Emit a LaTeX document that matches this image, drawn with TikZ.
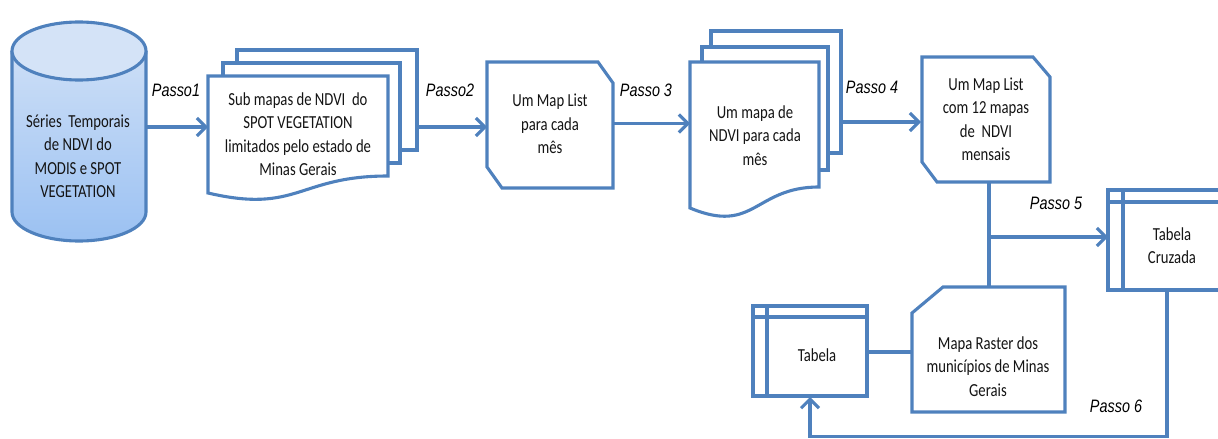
\documentclass[tikz,border=0pt]{standalone}
\usepackage{fontspec}
\usepackage{graphicx}
\usetikzlibrary{arrows.meta}
\newfontfamily\calfont{Carlito}
\newfontfamily\arifont{Liberation Sans}
\definecolor{ob}{RGB}{79,129,189}
\definecolor{tc}{RGB}{20,20,20}
\definecolor{cylT}{RGB}{212,227,247}
\definecolor{cylB}{RGB}{155,193,242}
\newcommand{\tx}[1]{\scalebox{1}[1.25]{\begin{tabular}{@{}c@{}}#1\end{tabular}}}
\newcommand{\ps}[1]{\scalebox{1}[1.25]{#1}}
\tikzset{
  ln/.style={draw=ob, line width=3.1pt},
  arr/.style={ln, -{Straight Barb[length=9pt,width=18pt]}},
  shapebox/.style={ln, fill=white, line join=miter},
  txt/.style={inner sep=0pt, text=tc, font=\calfont\fontsize{14.7}{18.8}\selectfont},
  passo/.style={inner sep=0pt, text=black, font=\arifont\itshape\fontsize{14.4}{17}\selectfont}
}
\begin{document}
\begin{tikzpicture}[x=1pt,y=-1pt]
\useasboundingbox (0,0) rectangle (1218,439);
% cylinder
\path[top color=cylT, bottom color=cylB] (12,51) -- (12,212) arc[start angle=180,end angle=360,x radius=67pt,y radius=29pt] -- (146,51) arc[start angle=0,end angle=180,x radius=67pt,y radius=29pt] -- cycle;
\draw[ln] (12,51) -- (12,212) arc[start angle=180,end angle=360,x radius=67pt,y radius=29pt] -- (146,51);
\draw[ln, fill=cylT] (79,51) ellipse [x radius=67pt, y radius=29pt];
\node[txt] (cyl) at (78,158) {\tx{Séries~~Temporais\\de NDVI do\\MODIS e SPOT\\VEGETATION}};
% document stack 1
\draw[shapebox] (237,50) rectangle (417,150);
\draw[shapebox] (223,63) rectangle (400,163);
\draw[shapebox] (208,76) -- (388,76) -- (388,176) .. controls (298,176) and (298,214) .. (208,193) -- cycle;
\node[txt] (doc1) at (298,136) {\tx{Sub mapas de NDVI~~do\\SPOT VEGETATION\\limitados pelo estado de\\Minas Gerais}};
% map list 1
\draw[shapebox] (487,62) -- (598,62) -- (613,83) -- (613,188) -- (502,188) -- (487,167) -- cycle;
\node[txt] (map1) at (550,125.5) {\tx{Um Map List\\para cada\\mês}};
% document stack 2
\draw[shapebox] (711,31) rectangle (841,153);
\draw[shapebox] (702,47) rectangle (828,170);
\draw[shapebox] (690,62) -- (819,62) -- (819,187) .. controls (754.5,187) and (754.5,235) .. (690,208) -- cycle;
\node[txt] (doc2) at (755,137) {\tx{Um mapa de\\NDVI para cada\\mês}};
% map list 2
\draw[shapebox] (922,57) -- (1033,57) -- (1050,77) -- (1050,182) -- (937,182) -- (922,162) -- cycle;
\node[txt] (map2) at (986,121) {\tx{Um Map List\\com 12 mapas\\de~~NDVI\\mensais}};
% tabela cruzada
\draw[shapebox] (1108,190) rectangle (1232,290);
\draw[ln] (1123,190) -- (1123,290);
\draw[ln] (1108,202) -- (1232,202);
\node[txt] (tcruz) at (1172,247.5) {\tx{Tabela\\Cruzada}};
% mapa raster
\draw[shapebox] (943,287) -- (1065,287) -- (1065,412) -- (912,412) -- (912,313) -- cycle;
\node[txt] (raster) at (988,368) {\tx{Mapa Raster dos\\municípios de Minas\\Gerais}};
% tabela
\draw[shapebox] (753,306) rectangle (867,396);
\draw[ln] (767,306) -- (767,396);
\draw[ln] (753,317) -- (867,317);
\node[txt] (tab) at (817,357) {\tx{Tabela}};
% connection points
\coordinate (cylE) at (146,127);
\coordinate (doc1W) at (208,127);
\coordinate (doc1E) at (417,127);
\coordinate (map1W) at (487,127);
\coordinate (map1E) at (613,123.5);
\coordinate (doc2W) at (690,123.5);
\coordinate (doc2E) at (841,122);
\coordinate (map2W) at (921,122);
\coordinate (map2S) at (989,182);
\coordinate (rasterN) at (989,287);
\coordinate (branch) at (989,237);
\coordinate (tcruzW) at (1108,237);
\coordinate (tcruzS) at (1167,290);
\coordinate (tabE) at (867,352);
\coordinate (rasterW) at (912,352);
\coordinate (tabS) at (810,397);
\coordinate (bottomR) at (1167,436.5);
% connectors
\draw[arr] (cylE) -- (doc1W);
\draw[arr] (doc1E) -- (map1W);
\draw[arr] (map1E) -- (doc2W);
\draw[arr] (doc2E) -- (map2W);
\draw[ln] (map2S) -- (rasterN);
\draw[arr] (branch) -- (tcruzW);
\draw[ln] (tabE) -- (rasterW);
\draw[arr] (tcruzS) -- (bottomR) -| (tabS);
% labels
\node[passo] (p1) at (176,90) {\ps{Passo1}};
\node[passo] (p2) at (450,90) {\ps{Passo2}};
\node[passo] (p3) at (646,90) {\ps{Passo 3}};
\node[passo] (p4) at (872,87) {\ps{Passo 4}};
\node[passo] (p5) at (1056,203) {\ps{Passo 5}};
\node[passo] (p6) at (1116,406) {\ps{Passo 6}};
\end{tikzpicture}
\end{document}
